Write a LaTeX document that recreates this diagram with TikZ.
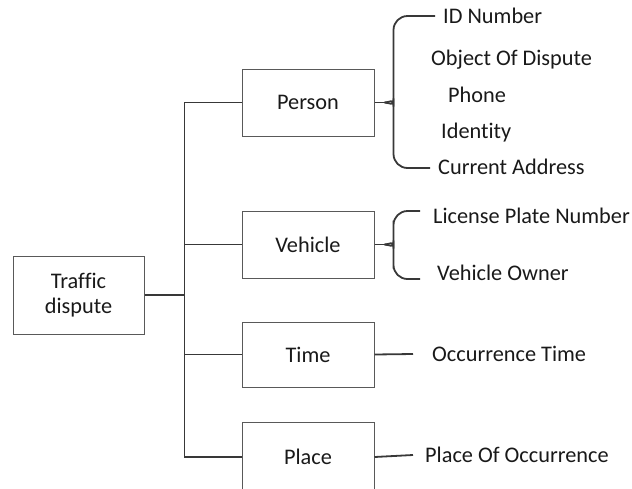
\documentclass[tikz,border=0pt]{standalone}
\usepackage{fontspec}
\setmainfont[Ligatures=NoCommon]{Carlito}
\usetikzlibrary{positioning}

\tikzset{
  catbox/.style={draw=black!65, line width=1pt, minimum width=132pt, minimum height=67pt, inner sep=0pt},
  leaf/.style={anchor=west, inner sep=0pt, text height=14pt, text depth=0pt},
  link/.style={draw=black!78, line width=1.8pt},
  brace/.style={link, rounded corners=14pt},
}

\begin{document}
\begin{tikzpicture}[x=1pt, y=-1pt, node distance=40pt, font=\fontsize{22.3}{25}\selectfont, text=black!90]
  \useasboundingbox (0,0) rectangle (632,488);
  \clip (0,0) rectangle (632,488);

  % ノード
  \node[catbox, minimum width=131pt, minimum height=78pt, align=center] (traffic) at (78.5,295) {Traffic\\dispute};
  \node[catbox] (person) at (308,102.5) {Person};
  \node[catbox] (vehicle) [below=74pt of person] {Vehicle};
  \node[catbox, minimum height=65pt] (time) [below=43pt of vehicle] {Time};
  \node[catbox, minimum height=70pt] (place) [below=34pt of time] {Place};

  \node[leaf] (idnum) at (443,16) {ID Number};
  \node[leaf] (object) at (431,58) {Object Of Dispute};
  \node[leaf] (phone) at (448,95) {Phone};
  \node[leaf] (identity) at (441,131) {Identity};
  \node[leaf] (address) at (438,167) {Current Address};
  \node[leaf] (plate) at (433,216) {License Plate Number};
  \node[leaf] (owner) at (437,273) {Vehicle Owner};
  \node[leaf] (occtime) at (432,354) {Occurrence Time};
  \node[leaf] (occplace) at (425,455) {Place Of Occurrence};

  % 線
  \coordinate (trunk) at ([xshift=40pt]traffic.east);
  \draw[link] (traffic.east) -- (trunk);
  \draw[link] (trunk) |- (person.west);
  \draw[link] (trunk) |- (vehicle.west);
  \draw[link] (trunk) |- (time.west);
  \draw[link] (trunk) |- (place.west);

  % 括弧
  \draw[link] (person.east) -- ([xshift=10pt]person.east);
  \draw[brace] ([xshift=-8pt]idnum.west) -| ([xshift=19pt,yshift=10pt]person.east) to[out=-90,in=0] ([xshift=10pt]person.east);
  \draw[brace] ([xshift=-8pt,yshift=-1pt]address.west) -| ([xshift=19pt,yshift=-10pt]person.east) to[out=90,in=0] ([xshift=10pt]person.east);

  \draw[link] (vehicle.east) -- ([xshift=10pt]vehicle.east);
  \draw[brace] ([xshift=-13pt,yshift=5pt]plate.west) -| ([xshift=19pt,yshift=10pt]vehicle.east) to[out=-90,in=0] ([xshift=10pt]vehicle.east);
  \draw[brace] ([xshift=-17pt,yshift=-6pt]owner.west) -| ([xshift=19pt,yshift=-10pt]vehicle.east) to[out=90,in=0] ([xshift=10pt]vehicle.east);

  \draw[link] (time.east) -- ([xshift=-19pt]occtime.west);
  \draw[link] (place.east) -- ([xshift=-12pt]occplace.west);
\end{tikzpicture}
\end{document}
